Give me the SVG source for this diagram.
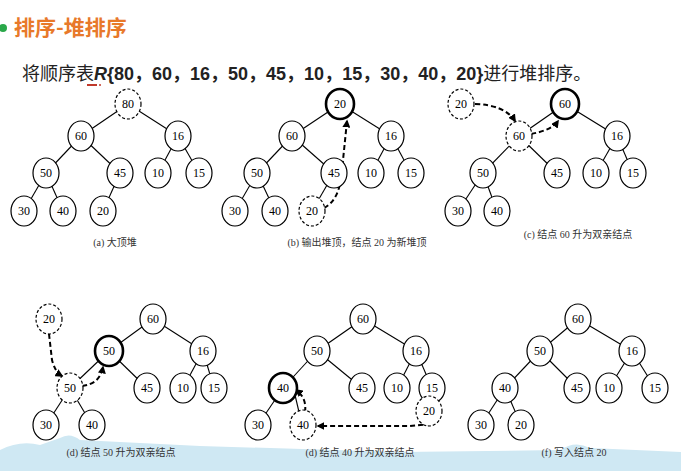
<svg xmlns="http://www.w3.org/2000/svg" width="681" height="471" viewBox="0 0 681 471">
<defs>
<style>
.n ellipse{fill:#fff;stroke:#000;stroke-width:1.2}
.n.b ellipse{stroke-width:2.6}
.n.d ellipse{stroke-dasharray:3 2}
.n text{font-family:"Liberation Serif",serif;font-size:12px;fill:#000;text-anchor:middle;dominant-baseline:central}
.e line{stroke:#000;stroke-width:1.1}
.a path{fill:none;stroke:#000;stroke-width:2;stroke-dasharray:5 3;marker-end:url(#ar)}
.cap{font-family:"Liberation Serif","Noto Sans CJK SC",serif;font-size:10px;fill:#333;text-anchor:middle}
</style>
<marker id="ar" viewBox="0 0 10 10" refX="8" refY="5" markerWidth="4" markerHeight="4" orient="auto"><path d="M0,0L10,5L0,10z" fill="#000"/></marker>
</defs>
<rect width="681" height="471" fill="#fff"/>
<path d="M0,450 Q20,440 40,445 L60,438 Q70,432 80,440 L200,446 L400,452 L560,450 Q575,440 590,448 L681,452 L681,471 L0,471Z" fill="#cfe8f3"/>
<circle cx="3" cy="28" r="4" fill="#2aa84a"/>
<text x="14" y="35" font-family="'Noto Sans CJK SC',sans-serif" font-size="21" font-weight="bold" fill="#e8792a">排序-堆排序</text>
<text x="22" y="80" font-family="'Liberation Sans','Noto Sans CJK SC',sans-serif" font-size="18" fill="#222">将顺序表<tspan font-weight="bold" font-style="italic">R</tspan><tspan font-weight="bold">{80，60，16，50，45，10，15，30，40，20}</tspan>进行堆排序。</text>
<line x1="87" y1="85" x2="97" y2="85" stroke="#c0392b" stroke-width="2"/>
<circle cx="100" cy="85" r="1" fill="#c0392b"/>
<g id="connectors">
<g class="e">
<line x1="128" y1="104" x2="81" y2="136"/><line x1="128" y1="104" x2="178" y2="136"/><line x1="81" y1="136" x2="46" y2="173"/><line x1="81" y1="136" x2="120" y2="173"/><line x1="178" y1="136" x2="158" y2="173"/><line x1="178" y1="136" x2="199" y2="173"/><line x1="46" y1="173" x2="24" y2="211"/><line x1="46" y1="173" x2="63" y2="211"/><line x1="120" y1="173" x2="103" y2="211"/>
<line x1="340" y1="104" x2="292" y2="136"/><line x1="340" y1="104" x2="391" y2="136"/><line x1="292" y1="136" x2="257" y2="173"/><line x1="292" y1="136" x2="334" y2="173"/><line x1="391" y1="136" x2="371" y2="173"/><line x1="391" y1="136" x2="411" y2="173"/><line x1="257" y1="173" x2="235" y2="211"/><line x1="257" y1="173" x2="275" y2="211"/><line x1="334" y1="173" x2="312" y2="211"/>
<line x1="565" y1="104" x2="519" y2="136"/><line x1="565" y1="104" x2="617" y2="136"/><line x1="519" y1="136" x2="483" y2="173"/><line x1="519" y1="136" x2="557" y2="173"/><line x1="617" y1="136" x2="596" y2="173"/><line x1="617" y1="136" x2="633" y2="173"/><line x1="483" y1="173" x2="458" y2="211"/><line x1="483" y1="173" x2="497" y2="211"/>
<line x1="153" y1="319" x2="109" y2="351"/><line x1="153" y1="319" x2="203" y2="351"/><line x1="109" y1="351" x2="70" y2="388"/><line x1="109" y1="351" x2="147" y2="388"/><line x1="203" y1="351" x2="183" y2="388"/><line x1="203" y1="351" x2="214" y2="388"/><line x1="70" y1="388" x2="46" y2="425"/><line x1="70" y1="388" x2="92" y2="425"/>
<line x1="363" y1="319" x2="317" y2="351"/><line x1="363" y1="319" x2="416" y2="351"/><line x1="317" y1="351" x2="283" y2="388"/><line x1="317" y1="351" x2="362" y2="388"/><line x1="416" y1="351" x2="397" y2="388"/><line x1="416" y1="351" x2="432" y2="388"/><line x1="283" y1="388" x2="258" y2="425"/><line x1="295" y1="395" x2="299" y2="412"/>
<line x1="578" y1="319" x2="540" y2="351"/><line x1="578" y1="319" x2="632" y2="351"/><line x1="540" y1="351" x2="505" y2="388"/><line x1="540" y1="351" x2="577" y2="388"/><line x1="632" y1="351" x2="609" y2="388"/><line x1="632" y1="351" x2="655" y2="388"/><line x1="505" y1="388" x2="481" y2="425"/><line x1="505" y1="388" x2="521" y2="425"/>
</g>
<g class="a">
<path d="M324,208 Q340,200 342,170 L347,121"/>
<path d="M475,104 Q505,105 515,121"/>
<path d="M531,134 Q552,130 558,121"/>
<path d="M49,334 L52,360 Q55,372 62,376"/>
<path d="M82,386 Q100,384 103,367"/>
<path d="M431,424 L410,426 L318,426"/>
<path d="M305,412 Q307,398 296,390"/>
</g>
</g>
<g id="tree-a">
<g class="n d"><ellipse cx="128" cy="104" rx="13" ry="15"/><text x="128" y="104">80</text></g>
<g class="n"><ellipse cx="81" cy="136" rx="13" ry="15"/><text x="81" y="136">60</text></g>
<g class="n"><ellipse cx="178" cy="136" rx="13" ry="15"/><text x="178" y="136">16</text></g>
<g class="n"><ellipse cx="46" cy="173" rx="13" ry="15"/><text x="46" y="173">50</text></g>
<g class="n"><ellipse cx="120" cy="173" rx="13" ry="15"/><text x="120" y="173">45</text></g>
<g class="n"><ellipse cx="158" cy="173" rx="13" ry="15"/><text x="158" y="173">10</text></g>
<g class="n"><ellipse cx="199" cy="173" rx="13" ry="15"/><text x="199" y="173">15</text></g>
<g class="n"><ellipse cx="24" cy="211" rx="13" ry="15"/><text x="24" y="211">30</text></g>
<g class="n"><ellipse cx="63" cy="211" rx="13" ry="15"/><text x="63" y="211">40</text></g>
<g class="n"><ellipse cx="103" cy="211" rx="13" ry="15"/><text x="103" y="211">20</text></g>
<text class="cap" x="115" y="246">(a)  大顶堆</text>
</g>
<g id="tree-b">
<g class="n b"><ellipse cx="340" cy="104" rx="14" ry="15"/><text x="340" y="104">20</text></g>
<g class="n"><ellipse cx="292" cy="136" rx="13" ry="15"/><text x="292" y="136">60</text></g>
<g class="n"><ellipse cx="391" cy="136" rx="13" ry="15"/><text x="391" y="136">16</text></g>
<g class="n"><ellipse cx="257" cy="173" rx="13" ry="15"/><text x="257" y="173">50</text></g>
<g class="n"><ellipse cx="334" cy="173" rx="13" ry="15"/><text x="334" y="173">45</text></g>
<g class="n"><ellipse cx="371" cy="173" rx="13" ry="15"/><text x="371" y="173">10</text></g>
<g class="n"><ellipse cx="411" cy="173" rx="13" ry="15"/><text x="411" y="173">15</text></g>
<g class="n"><ellipse cx="235" cy="211" rx="13" ry="15"/><text x="235" y="211">30</text></g>
<g class="n"><ellipse cx="275" cy="211" rx="13" ry="15"/><text x="275" y="211">40</text></g>
<g class="n d"><ellipse cx="312" cy="211" rx="13" ry="15"/><text x="312" y="211">20</text></g>
<text class="cap" x="357" y="246">(b)  输出堆顶，结点 20 为新堆顶</text>
</g>
<g id="tree-c">
<g class="n d"><ellipse cx="461" cy="104" rx="13" ry="15"/><text x="461" y="104">20</text></g>
<g class="n b"><ellipse cx="565" cy="104" rx="14" ry="15"/><text x="565" y="104">60</text></g>
<g class="n d"><ellipse cx="519" cy="136" rx="13" ry="15"/><text x="519" y="136">60</text></g>
<g class="n"><ellipse cx="617" cy="136" rx="13" ry="15"/><text x="617" y="136">16</text></g>
<g class="n"><ellipse cx="483" cy="173" rx="13" ry="15"/><text x="483" y="173">50</text></g>
<g class="n"><ellipse cx="557" cy="173" rx="13" ry="15"/><text x="557" y="173">45</text></g>
<g class="n"><ellipse cx="596" cy="173" rx="13" ry="15"/><text x="596" y="173">10</text></g>
<g class="n"><ellipse cx="633" cy="173" rx="13" ry="15"/><text x="633" y="173">15</text></g>
<g class="n"><ellipse cx="458" cy="211" rx="13" ry="15"/><text x="458" y="211">30</text></g>
<g class="n"><ellipse cx="497" cy="211" rx="13" ry="15"/><text x="497" y="211">40</text></g>
<text class="cap" x="578" y="238">(c)  结点 60 升为双亲结点</text>
</g>
<g id="tree-d1">
<g class="n d"><ellipse cx="49" cy="319" rx="13" ry="15"/><text x="49" y="319">20</text></g>
<g class="n"><ellipse cx="153" cy="319" rx="13" ry="15"/><text x="153" y="319">60</text></g>
<g class="n b"><ellipse cx="109" cy="351" rx="14" ry="15"/><text x="109" y="351">50</text></g>
<g class="n"><ellipse cx="203" cy="351" rx="13" ry="15"/><text x="203" y="351">16</text></g>
<g class="n d"><ellipse cx="70" cy="388" rx="13" ry="15"/><text x="70" y="388">50</text></g>
<g class="n"><ellipse cx="147" cy="388" rx="13" ry="15"/><text x="147" y="388">45</text></g>
<g class="n"><ellipse cx="183" cy="388" rx="13" ry="15"/><text x="183" y="388">10</text></g>
<g class="n"><ellipse cx="214" cy="388" rx="13" ry="15"/><text x="214" y="388">15</text></g>
<g class="n"><ellipse cx="46" cy="425" rx="13" ry="15"/><text x="46" y="425">30</text></g>
<g class="n"><ellipse cx="92" cy="425" rx="13" ry="15"/><text x="92" y="425">40</text></g>
<text class="cap" x="121" y="456">(d)  结点 50 升为双亲结点</text>
</g>
<g id="tree-d2">
<g class="n"><ellipse cx="363" cy="319" rx="13" ry="15"/><text x="363" y="319">60</text></g>
<g class="n"><ellipse cx="317" cy="351" rx="13" ry="15"/><text x="317" y="351">50</text></g>
<g class="n"><ellipse cx="416" cy="351" rx="13" ry="15"/><text x="416" y="351">16</text></g>
<g class="n b"><ellipse cx="283" cy="388" rx="14" ry="15"/><text x="283" y="388">40</text></g>
<g class="n"><ellipse cx="362" cy="388" rx="13" ry="15"/><text x="362" y="388">45</text></g>
<g class="n"><ellipse cx="397" cy="388" rx="13" ry="15"/><text x="397" y="388">10</text></g>
<g class="n"><ellipse cx="432" cy="388" rx="13" ry="15"/><text x="432" y="388">15</text></g>
<g class="n d"><ellipse cx="429" cy="411" rx="13" ry="15"/><text x="429" y="411">20</text></g>
<g class="n"><ellipse cx="258" cy="425" rx="13" ry="15"/><text x="258" y="425">30</text></g>
<g class="n d"><ellipse cx="303" cy="425" rx="13" ry="15"/><text x="303" y="425">40</text></g>
<text class="cap" x="360" y="456">(d)  结点 40 升为双亲结点</text>
</g>
<g id="tree-f">
<g class="n"><ellipse cx="578" cy="319" rx="13" ry="15"/><text x="578" y="319">60</text></g>
<g class="n"><ellipse cx="540" cy="351" rx="13" ry="15"/><text x="540" y="351">50</text></g>
<g class="n"><ellipse cx="632" cy="351" rx="13" ry="15"/><text x="632" y="351">16</text></g>
<g class="n"><ellipse cx="505" cy="388" rx="13" ry="15"/><text x="505" y="388">40</text></g>
<g class="n"><ellipse cx="577" cy="388" rx="13" ry="15"/><text x="577" y="388">45</text></g>
<g class="n"><ellipse cx="609" cy="388" rx="13" ry="15"/><text x="609" y="388">10</text></g>
<g class="n"><ellipse cx="655" cy="388" rx="13" ry="15"/><text x="655" y="388">15</text></g>
<g class="n"><ellipse cx="481" cy="425" rx="13" ry="15"/><text x="481" y="425">30</text></g>
<g class="n"><ellipse cx="521" cy="425" rx="13" ry="15"/><text x="521" y="425">20</text></g>
<text class="cap" x="574" y="456">(f)  写入结点 20</text>
</g>
</svg>
